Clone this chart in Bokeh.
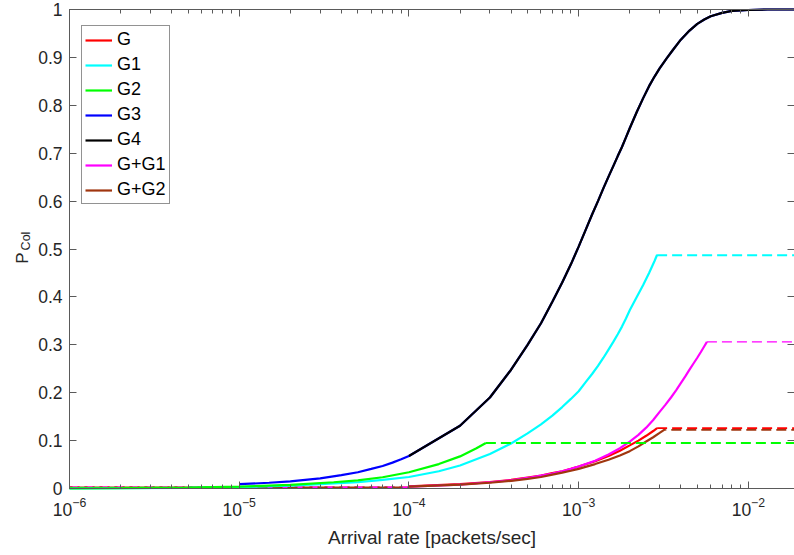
import math
from bokeh.plotting import figure
from bokeh.models import (Range1d, LinearAxis, LogAxis, FixedTicker, LogTicker,
                          Legend, LegendItem, Label)
from bokeh.embed import file_html
from bokeh.resources import INLINE

# ---------------- data ----------------
x_min, x_max = 1e-6, 1.87e-2
y_min, y_max = 0.0, 1.0
x_end = 2e-2

# G (red)
g_x = [1e-4, 2e-4, 3e-4, 4e-4, 5e-4, 6e-4, 7e-4, 8e-4, 9e-4, 1e-3, 1.25e-3, 1.5e-3,
       1.75e-3, 2e-3, 2.25e-3, 2.5e-3, 2.75e-3, 2.9e-3]
g_y = [0.0045, 0.009, 0.0135, 0.018, 0.023, 0.027, 0.032, 0.036, 0.041, 0.046, 0.057,
       0.068, 0.079, 0.090, 0.100, 0.110, 0.120, 0.126]

# G1 (cyan)
g1_x = [1e-6, 2e-6, 5e-6, 1e-5, 2e-5, 3e-5, 5e-5, 7e-5, 1e-4, 1.5e-4, 2e-4, 3e-4, 4e-4,
        5e-4, 6e-4, 7e-4, 8e-4, 9e-4, 1e-3, 1.1e-3, 1.2e-3, 1.3e-3, 1.4e-3, 1.5e-3,
        1.6e-3, 1.7e-3, 1.8e-3, 1.9e-3, 2e-3, 2.2e-3, 2.4e-3, 2.6e-3, 2.8e-3, 2.9e-3]
g1_y = [0.0003, 0.0006, 0.0015, 0.003, 0.006, 0.009, 0.013, 0.018, 0.024, 0.036, 0.048,
        0.072, 0.094, 0.115, 0.134, 0.152, 0.170, 0.187, 0.203, 0.222, 0.239, 0.256,
        0.273, 0.290, 0.306, 0.322, 0.338, 0.355, 0.372, 0.400, 0.425, 0.450, 0.475, 0.488]

# G2 (green)
g2_x = [1e-6, 2e-6, 5e-6, 1e-5, 2e-5, 3.6e-5, 5e-5, 7e-5, 1e-4, 1.5e-4, 2e-4, 2.5e-4, 2.84e-4]
g2_y = [0.0004, 0.0008, 0.002, 0.004, 0.0075, 0.013, 0.017, 0.0235, 0.034, 0.051, 0.067,
        0.084, 0.095]

# G4 (black)
g4_x = [1e-4, 2e-4, 3e-4, 4e-4, 5e-4, 6e-4, 7e-4, 8e-4, 9e-4, 1e-3, 1.1e-3, 1.2e-3,
        1.3e-3, 1.4e-3, 1.5e-3, 1.6e-3, 1.7e-3, 1.8e-3, 1.9e-3, 2e-3, 2.2e-3, 2.4e-3,
        2.6e-3, 2.8e-3, 3e-3, 3.3e-3, 3.6e-3, 4e-3, 4.5e-3, 5e-3, 5.5e-3, 6e-3, 7e-3,
        8e-3, 9e-3, 1e-2, 1.3e-2, 2e-2]
g4_y = [0.068, 0.131, 0.190, 0.248, 0.300, 0.345, 0.390, 0.430, 0.468, 0.505, 0.540,
        0.572, 0.600, 0.627, 0.651, 0.673, 0.694, 0.713, 0.733, 0.752, 0.786, 0.815,
        0.840, 0.860, 0.877, 0.898, 0.916, 0.937, 0.956, 0.970, 0.979, 0.986, 0.993,
        0.997, 0.998, 0.999, 1.0, 1.0]

# G3 (blue)
g3_x = [1e-5, 1.5e-5, 2e-5, 3e-5, 4e-5, 5e-5, 6e-5, 7e-5, 8e-5, 9e-5] + g4_x
g3_y = [0.009, 0.012, 0.015, 0.021, 0.028, 0.034, 0.041, 0.047, 0.054, 0.061] + g4_y

# G+G1 (magenta)
gg1_x = [1e-4, 2e-4, 3e-4, 4e-4, 5e-4, 6e-4, 7e-4, 8e-4, 9e-4, 1e-3, 1.25e-3, 1.5e-3,
         1.75e-3, 2e-3, 2.25e-3, 2.5e-3, 2.75e-3, 3e-3, 3.25e-3, 3.5e-3, 3.75e-3, 4e-3,
         4.25e-3, 4.5e-3, 4.75e-3, 5e-3, 5.25e-3, 5.5e-3, 5.7e-3]
gg1_y = [0.004, 0.008, 0.013, 0.017, 0.022, 0.027, 0.031, 0.036, 0.041, 0.046, 0.058,
         0.071, 0.084, 0.098, 0.112, 0.127, 0.143, 0.160, 0.175, 0.190, 0.205, 0.220,
         0.234, 0.248, 0.261, 0.273, 0.285, 0.297, 0.306]

# G+G2 (brown)
gg2_x = [1e-4, 2e-4, 3e-4, 4e-4, 5e-4, 6e-4, 7e-4, 8e-4, 9e-4, 1e-3, 1.25e-3, 1.5e-3,
         1.75e-3, 2e-3, 2.25e-3, 2.5e-3, 2.75e-3, 3e-3, 3.24e-3]
gg2_y = [0.004, 0.008, 0.012, 0.016, 0.020, 0.024, 0.029, 0.033, 0.037, 0.041, 0.051,
         0.060, 0.069, 0.078, 0.088, 0.098, 0.107, 0.116, 0.124]

# flat (dashed) levels
low_level = 0.002
g_flat = 0.126
g1_flat = 0.487
g2_flat = 0.095
gg1_flat = 0.306
gg2_flat = 0.1225

y_ticks = [0, 0.1, 0.2, 0.3, 0.4, 0.5, 0.6, 0.7, 0.8, 0.9, 1]
y_tick_labels = ["0", "0.1", "0.2", "0.3", "0.4", "0.5", "0.6", "0.7", "0.8", "0.9", "1"]

series_names = ["G", "G1", "G2", "G3", "G4", "G+G1", "G+G2"]
colors = {"G": "#FF0000", "G1": "#00FFFF", "G2": "#00FF00", "G3": "#0000FF",
          "G4": "#000000", "G+G1": "#FF00FF", "G+G2": "#A0360F"}

# ---------------- layout (pixels) ----------------
W, H = 794, 555
AX_L, AX_R, AX_T, AX_B = 69, 794, 9, 488          # axes box in the page
px_per_decade = (AX_R - AX_L) / (math.log10(x_max) - math.log10(x_min))
px_per_unit_y = (AX_B - AX_T) / (y_max - y_min)
# the plotting frame fills the whole canvas; the axes are pinned to the box
xr0 = 10 ** (math.log10(x_min) - AX_L / px_per_decade)
xr1 = 10 ** (math.log10(x_max) + (W - AX_R) / px_per_decade)
yr0 = y_min - (H - AX_B) / px_per_unit_y
yr1 = y_max + AX_T / px_per_unit_y

FONT = "Liberation Sans"
TXT = "#262626"
AX = "#5a5a5a"

p = figure(width=W, height=H, x_axis_type="log",
           x_range=Range1d(xr0, xr1), y_range=Range1d(yr0, yr1),
           output_backend="svg", toolbar_location=None,
           min_border_left=0, min_border_right=0, min_border_top=0, min_border_bottom=0)
p.outline_line_color = None
p.xgrid.visible = False
p.ygrid.visible = False
p.background_fill_color = "white"
p.border_fill_color = "white"

lw = 2.2
dash = "10 5"

# low-end dashed segments
p.line([x_min, g_x[0]], [low_level, low_level], color=colors["G"], line_width=lw, line_dash=dash)
p.line([x_min, gg1_x[0]], [low_level, low_level], color=colors["G+G1"], line_width=lw, line_dash=dash)
p.line([x_min, gg2_x[0]], [low_level, low_level], color=colors["G+G2"], line_width=lw,
       line_dash=dash, line_dash_offset=7)

r_g = p.line(g_x, g_y, color=colors["G"], line_width=lw)
r_g1 = p.line(g1_x, g1_y, color=colors["G1"], line_width=lw)
r_g2 = p.line(g2_x, g2_y, color=colors["G2"], line_width=lw)
r_g3 = p.line(g3_x, g3_y, color=colors["G3"], line_width=lw)
r_g4 = p.line(g4_x, g4_y, color=colors["G4"], line_width=lw)
r_gg1 = p.line(gg1_x, gg1_y, color=colors["G+G1"], line_width=lw)
r_gg2 = p.line(gg2_x, gg2_y, color=colors["G+G2"], line_width=lw)

# high-end dashed extensions
p.line([g2_x[-1], x_end], [g2_flat, g2_flat], color=colors["G2"], line_width=1.8, line_dash=dash)
p.line([g1_x[-1], x_end], [g1_flat, g1_flat], color=colors["G1"], line_width=1.8, line_dash=dash)
p.line([gg1_x[-1], x_end], [gg1_flat, gg1_flat], color=colors["G+G1"], line_width=1.3, line_dash=dash)
p.line([gg2_x[-1], x_end], [gg2_flat, gg2_flat], color=colors["G+G2"], line_width=1.8,
       line_dash=dash, line_dash_offset=9)
p.line([g_x[-1], x_end], [g_flat, g_flat], color=colors["G"], line_width=1.8, line_dash=dash)

# ---------------- axes ----------------
def style_axis(ax, labels=True):
    ax.axis_line_color = AX
    ax.axis_line_width = 1
    ax.major_tick_line_color = AX
    ax.minor_tick_line_color = AX
    ax.major_tick_in = 7
    ax.major_tick_out = 0
    ax.minor_tick_in = 4
    ax.minor_tick_out = 0
    ax.major_label_text_font = FONT
    ax.major_label_text_color = TXT
    ax.major_label_text_font_size = "17.5px"
    if not labels:
        ax.major_label_text_font_size = "0px"
        ax.major_label_text_alpha = 0
        ax.major_label_standoff = 0

xa = p.xaxis[0]
xa.ticker = LogTicker(num_minor_ticks=10, desired_num_ticks=6)
xa.fixed_location = y_min
xa.bounds = (x_min, x_max)
style_axis(xa)
xa.major_label_standoff = 8
xa.axis_label = "Arrival rate [packets/sec]"
xa.axis_label_text_font = FONT
xa.axis_label_text_font_style = "normal"
xa.axis_label_text_font_size = "19px"
xa.axis_label_text_color = TXT
xa.axis_label_standoff = 8

ya = p.yaxis[0]
ya.ticker = FixedTicker(ticks=y_ticks)
ya.major_label_overrides = {t: s for t, s in zip(y_ticks, y_tick_labels)}
ya.fixed_location = x_min
ya.bounds = (y_min, y_max)
style_axis(ya)
ya.minor_tick_line_color = None
ya.major_label_standoff = 7

top = LogAxis(ticker=LogTicker(num_minor_ticks=10, desired_num_ticks=6),
              fixed_location=y_max, bounds=(x_min, x_max))
style_axis(top, labels=False)
p.add_layout(top, "above")

right = LinearAxis(ticker=FixedTicker(ticks=y_ticks), fixed_location=x_max,
                   bounds=(y_min, y_max))
style_axis(right, labels=False)
right.minor_tick_line_color = None
p.add_layout(right, "right")

# y-axis label P_Col (screen units: frame == whole canvas)
p.add_layout(Label(x=21.5, y=H - 257.5, x_units="screen", y_units="screen",
                   text="P", angle=math.pi / 2,
                   text_align="center", text_baseline="middle",
                   text_font=FONT, text_font_size="17px", text_color=TXT))
p.add_layout(Label(x=25.5, y=H - 240.5, x_units="screen", y_units="screen",
                   text="Col", angle=math.pi / 2,
                   text_align="center", text_baseline="middle",
                   text_font=FONT, text_font_size="12.5px", text_color=TXT))

# ---------------- legend ----------------
renderers = [r_g, r_g1, r_g2, r_g3, r_g4, r_gg1, r_gg2]
legend = Legend(items=[LegendItem(label=n, renderers=[r]) for n, r in zip(series_names, renderers)],
                location=(81, H - 204), margin=0, padding=3, spacing=4,
                glyph_width=27, glyph_height=20, label_height=20, label_standoff=5,
                label_text_font=FONT, label_text_font_size="18px", label_text_color="#000000",
                border_line_color="#262626", border_line_width=1,
                background_fill_color="white", background_fill_alpha=1)
p.add_layout(legend)

open("out.html", "w").write(file_html(p, INLINE))
